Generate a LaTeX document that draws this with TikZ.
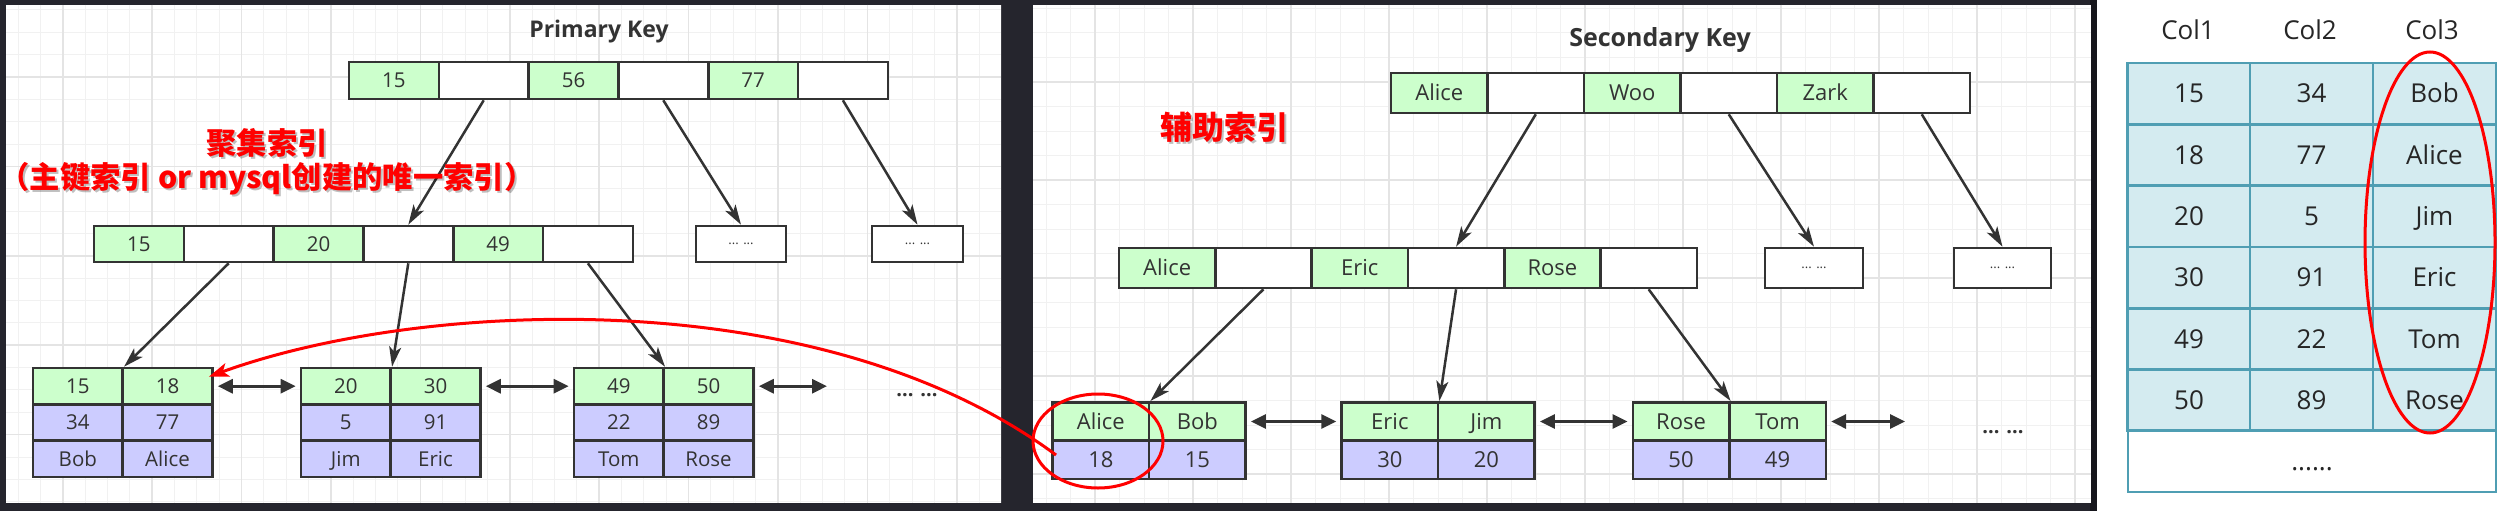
\documentclass[tikz,border=0pt]{standalone}
\usepackage{fontspec}
\setmainfont{Open Sans}
\newfontfamily\cjk{Noto Sans CJK SC}
\usetikzlibrary{arrows.meta,shapes.geometric,calc}
\definecolor{bgdark}{HTML}{25252D}
\definecolor{bgsep}{HTML}{16161C}
\definecolor{gridminor}{HTML}{F1F1F1}
\definecolor{gridmajor}{HTML}{E4E4E4}
\definecolor{linec}{HTML}{333333}
\definecolor{txt}{HTML}{333333}
\definecolor{greenc}{HTML}{CCFFCC}
\definecolor{purplec}{HTML}{CCCCFF}
\definecolor{tablec}{HTML}{D4EBF0}
\definecolor{tableb}{HTML}{4F9EB3}
\definecolor{redc}{HTML}{FF0000}
\begin{document}
\begin{tikzpicture}[x=1pt,y=-1pt,
 basecell/.style={draw=linec, line width=2.6pt, inner sep=0pt, text=txt},
 cellL/.style={basecell, minimum width=89.8pt, minimum height=36.3pt, font=\fontsize{20.5}{24}\selectfont, text height=14.6pt, text depth=0pt},
 cellM/.style={basecell, minimum width=96.5pt, minimum height=38.4pt, font=\fontsize{22}{26}\selectfont, text height=15.7pt, text depth=0pt},
 dotbox/.style={basecell, fill=white, font=\fontsize{13}{15}\selectfont},
 treearrow/.style={draw=linec, line width=2.5pt, -{Stealth[length=20pt,width=12pt,inset=5pt]}},
 dblarrow/.style={draw=linec, line width=3pt, {Triangle[length=15pt,width=14pt]}-{Triangle[length=15pt,width=14pt]}, shorten <=4pt, shorten >=4pt},
 gridmin/.style={draw=gridminor, line width=1pt},
 gridmaj/.style={draw=gridmajor, line width=1.6pt},
 redtext/.style={text=redc, font=\cjk\bfseries\fontsize{30.3}{36}\selectfont, inner sep=0pt},
 redshadow/.style={text=black, opacity=0.25, font=\cjk\bfseries\fontsize{30.3}{36}\selectfont, inner sep=0pt},
 leafdots/.style={text=linec, font=\bfseries\fontsize{20}{24}\selectfont, inner sep=0pt},
 tcell/.style={draw=tableb, line width=2.6pt, fill=tablec, minimum width=122.7pt, minimum height=61.3pt, inner sep=0pt, font=\fontsize{26}{30}\selectfont, text=black!85, text height=18.6pt, text depth=0pt},
 redring/.style={draw=redc, line width=3pt, ellipse, inner sep=0pt},
]
\useasboundingbox (0,0) rectangle (2515,511);
% background panels
\fill[bgdark] (0,0) rectangle (2097,511);
\fill[bgsep] (2090,0) rectangle (2097,511);
\fill[white] (2097,0) rectangle (2515,511);
\fill[white] (6,5) rectangle (1001,503);
\fill[white] (1033,5) rectangle (2091,503);
% grid left
\begin{scope}
\clip (6,5) rectangle (1001,503);
\foreach \i in {0,...,44} \draw[gridmin] ({18+22.35*\i},5) -- ({18+22.35*\i},503);
\foreach \i in {0,...,22} \draw[gridmin] (6,{10+22.35*\i}) -- (1001,{10+22.35*\i});
\foreach \i in {0,...,10} \draw[gridmaj] ({62.7+89.4*\i},5) -- ({62.7+89.4*\i},503);
\foreach \i in {0,...,4} \draw[gridmaj] (6,{77.05+89.4*\i}) -- (1001,{77.05+89.4*\i});
\end{scope}
% grid middle
\begin{scope}
\clip (1033,5) rectangle (2091,503);
\foreach \i in {-1,...,42} \draw[gridmin] ({1046+24.5*\i},5) -- ({1046+24.5*\i},503);
\foreach \i in {0,...,20} \draw[gridmin] (1033,{8.5+24.5*\i}) -- (2091,{8.5+24.5*\i});
\foreach \i in {0,...,10} \draw[gridmaj] ({1095+98*\i},5) -- ({1095+98*\i},503);
\foreach \i in {0,...,4} \draw[gridmaj] (1033,{82+98*\i}) -- (2091,{82+98*\i});
\end{scope}

% ===== Left panel: Primary Key =====
\node[text=txt, font=\bfseries\fontsize{23}{27}\selectfont, anchor=base] (PKtitle) at (599,37.5) {Primary Key};
\foreach \t/\f [count=\i] in {15/greenc,{}/white,56/greenc,{}/white,77/greenc,{}/white}
  \node[cellL, fill=\f, minimum height=37pt] (LR-\i) at ({349+89.8*(\i-0.5)},80.5) {\t};
\foreach \t/\f [count=\i] in {15/greenc,{}/white,20/greenc,{}/white,49/greenc,{}/white}
  \node[cellL, fill=\f, minimum height=36pt] (LM-\i) at ({94+89.8*(\i-0.5)},244) {\t};
\node[dotbox, minimum width=90pt, minimum height=36pt] (LD-1) at (741,244) {... ...};
\node[dotbox, minimum width=91pt, minimum height=36pt] (LD-2) at (917.5,244) {... ...};
\foreach \n/\lx/\va/\vb/\vc/\vd/\ve/\vf in {1/33/15/18/34/77/Bob/Alice,2/301/20/30/5/91/Jim/Eric,3/574/49/50/22/89/Tom/Rose}{
  \node[cellL, fill=greenc] (LL\n-11) at ({\lx+44.85},386.2) {\va};
  \node[cellL, fill=greenc] (LL\n-12) at ({\lx+134.55},386.2) {\vb};
  \node[cellL, fill=purplec] (LL\n-21) at ({\lx+44.85},422.5) {\vc};
  \node[cellL, fill=purplec] (LL\n-22) at ({\lx+134.55},422.5) {\vd};
  \node[cellL, fill=purplec] (LL\n-31) at ({\lx+44.85},458.8) {\ve};
  \node[cellL, fill=purplec] (LL\n-32) at ({\lx+134.55},458.8) {\vf};
}
\draw[treearrow] (LR-2.south) -- (LM-4.north);
\draw[treearrow] (LR-4.south) -- (LD-1.north);
\draw[treearrow] (LR-6.south) -- (LD-2.north);
\draw[treearrow] (LM-2.south) -- (LL1-11.north east);
\draw[treearrow] (LM-4.south) -- (LL2-11.north east);
\draw[treearrow] (LM-6.south) -- (LL3-11.north east);
\coordinate (LE) at (831,386.2);
\draw[dblarrow] (LL1-12.east) -- (LL2-11.west);
\draw[dblarrow] (LL2-12.east) -- (LL3-11.west);
\draw[dblarrow] (LL3-12.east) -- (LE);
\node[leafdots] (LDots) at (917,395) {... ...};
\node[redshadow] (RT1s) at (269,144.5) {聚集索引};
\node[redshadow] (RT2s) at (269,180.5) {（主键索引 or mysql创建的唯一索引）};
\node[redtext] (RT1) at (267,142.5) {聚集索引};
\node[redtext] (RT2) at (267,178.5) {（主键索引 or mysql创建的唯一索引）};

% ===== Middle panel: Secondary Key =====
\node[text=txt, font=\bfseries\fontsize{25}{29}\selectfont, anchor=base] (SKtitle) at (1660,46.5) {Secondary Key};
\foreach \t/\f [count=\i] in {Alice/greenc,{}/white,Woo/greenc,{}/white,Zark/greenc,{}/white}
  \node[cellM, fill=\f, minimum height=40pt] (MR-\i) at ({1391+96.5*(\i-0.5)},93) {\t};
\foreach \t/\f [count=\i] in {Alice/greenc,{}/white,Eric/greenc,{}/white,Rose/greenc,{}/white}
  \node[cellM, fill=\f, minimum width=96.3pt, minimum height=40pt] (MM-\i) at ({1119+96.3*(\i-0.5)},268) {\t};
\node[dotbox, minimum width=98pt, minimum height=40pt] (MD-1) at (1814,268) {... ...};
\node[dotbox, minimum width=97pt, minimum height=40pt] (MD-2) at (2002.5,268) {... ...};
\foreach \n/\lx/\va/\vb/\vc/\vd in {1/1052.6/Alice/Bob/18/15,2/1341.6/Eric/Jim/30/20,3/1632.8/Rose/Tom/50/49}{
  \node[cellM, fill=greenc] (ML\n-11) at ({\lx+48.25},421.5) {\va};
  \node[cellM, fill=greenc] (ML\n-12) at ({\lx+144.75},421.5) {\vb};
  \node[cellM, fill=purplec] (ML\n-21) at ({\lx+48.25},459.9) {\vc};
  \node[cellM, fill=purplec] (ML\n-22) at ({\lx+144.75},459.9) {\vd};
}
\draw[treearrow] (MR-2.south) -- (MM-4.north);
\draw[treearrow] (MR-4.south) -- (MD-1.north);
\draw[treearrow] (MR-6.south) -- (MD-2.north);
\draw[treearrow] (MM-2.south) -- (ML1-11.north east);
\draw[treearrow] (MM-4.south) -- (ML2-11.north east);
\draw[treearrow] (MM-6.south) -- (ML3-11.north east);
\coordinate (ME) at (1909,421.5);
\draw[dblarrow] (ML1-12.east) -- (ML2-11.west);
\draw[dblarrow] (ML2-12.east) -- (ML3-11.west);
\draw[dblarrow] (ML3-12.east) -- (ME);
\node[leafdots] (MDots) at (2003,431.7) {... ...};
\node[redshadow, font=\cjk\bfseries\fontsize{32}{38}\selectfont] (RT3s) at (1226,129) {辅助索引};
\node[redtext, font=\cjk\bfseries\fontsize{32}{38}\selectfont] (RT3) at (1224,127) {辅助索引};

% ===== Right panel: table =====
\node[text=black!85, font=\fontsize{26}{30}\selectfont] (H1) at (2188,30) {Col1};
\node[text=black!85, font=\fontsize{26}{30}\selectfont] (H2) at (2310,30) {Col2};
\node[text=black!85, font=\fontsize{26}{30}\selectfont] (H3) at (2432,30) {Col3};
\foreach \r/\va/\vb/\vc in {1/15/34/Bob,2/18/77/Alice,3/20/5/Jim,4/30/91/Eric,5/49/22/Tom,6/50/89/Rose}{
  \node[tcell] (T\r-1) at (2189,{63+61.3*(\r-0.5)}) {\va};
  \node[tcell] (T\r-2) at (2311.5,{63+61.3*(\r-0.5)}) {\vb};
  \node[tcell] (T\r-3) at (2434.5,{63+61.3*(\r-0.5)}) {\vc};
}
\node[tcell, fill=white, minimum width=368pt] (T7) at (2312,461.4) {......};

% ===== red marks =====
\node[redring, minimum width=130pt, minimum height=94pt] (E1) at (1098,441) {};
\node[redring, minimum width=130pt, minimum height=381pt] (E2) at (2430,242.5) {};
\coordinate (RS) at (1056,455);
\draw[draw=redc, line width=3pt, -{Stealth[length=20pt,width=14pt,inset=5pt]}] (RS) .. controls (820,280) and (420,300) .. ($(LL1-12.north east)+(-5,10)$);
\end{tikzpicture}
\end{document}
